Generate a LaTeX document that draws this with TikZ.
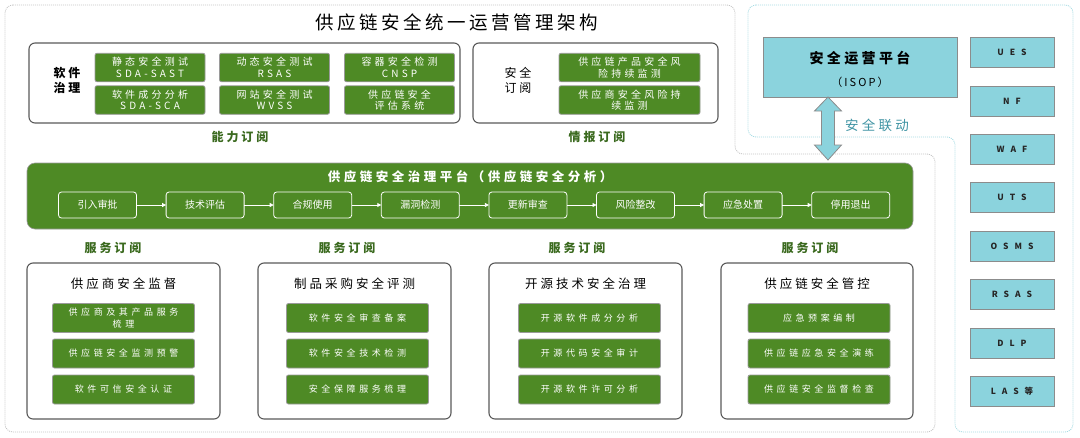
\documentclass[tikz,border=0pt]{standalone}
\usepackage{fontspec}
\usetikzlibrary{arrows.meta,calc}
\setmainfont{Noto Sans CJK SC}
\newfontfamily\lsA[LetterSpace=32]{Noto Sans CJK SC}
\newfontfamily\lsB[LetterSpace=40]{Noto Sans CJK SC}
\newfontfamily\lsC[LetterSpace=19]{Noto Sans CJK SC}
\newfontfamily\lsD[LetterSpace=70]{Noto Sans CJK SC}
\newfontfamily\lsE[LetterSpace=24]{Noto Sans CJK SC}
\newfontfamily\lsF[LetterSpace=28]{Noto Sans CJK SC}
\definecolor{gr}{HTML}{4E8A25}
\definecolor{gborder}{HTML}{9A9A9A}
\definecolor{boxgray}{HTML}{5A5A5A}
\definecolor{cy}{HTML}{8BD3DD}
\definecolor{cborder}{HTML}{8C8C8C}
\definecolor{dkgr}{HTML}{3B6A1F}
\definecolor{teal}{HTML}{3F94A4}
\definecolor{dotgray}{HTML}{C4C4C4}
\definecolor{dotcy}{HTML}{A6DCE4}
\begin{document}
\begin{tikzpicture}[x=1pt,y=-1pt,
  every node/.style={inner sep=0pt, outer sep=0pt},
  container/.style={draw=boxgray, line width=1.1pt, rounded corners=6pt, fill=white},
  gbox/.style={draw=gborder, fill=gr, line width=0.8pt, rounded corners=2pt, text=white, align=center},
  topg/.style={gbox, minimum height=28.5pt, font=\lsA\fontsize{10}{11.5}\selectfont},
  botg/.style={gbox, minimum width=142pt, minimum height=29pt, font=\lsB\fontsize{9}{11.5}\selectfont},
  stepbox/.style={draw=white, line width=0.8pt, rounded corners=3pt, minimum width=78pt, minimum height=26pt, text=white, font=\fontsize{10}{12}\selectfont},
  cbox/.style={draw=cborder, fill=cy, line width=1pt, minimum width=84pt, minimum height=30pt, text=black!85, font=\lsD\bfseries\fontsize{8.5}{10}\selectfont},
  sublabel/.style={text=dkgr, font=\lsE\bfseries\fontsize{12}{14}\selectfont},
  bottitle/.style={font=\lsE\fontsize{12.5}{14}\selectfont},
  flow/.style={draw=white, line width=0.8pt, -{Triangle[length=4pt,width=4pt]}},
  dotline/.style={line width=0.8pt, dash pattern=on 1pt off 1pt, rounded corners=8pt}
]
\useasboundingbox (0,0) rectangle (1080,437);
\fill[white] (0,0) rectangle (1080,437);

% outer dotted outlines
\draw[dotline, draw=dotgray] (5,5) -- (735,5) -- (735,154) -- (935,154) -- (935,432) -- (5,432) -- cycle;
\draw[dotline, draw=dotcy] (748,5) -- (1073,5) -- (1073,432) -- (955,432) -- (955,137) -- (748,137) -- cycle;

% title
\node[font=\lsC\fontsize{18.5}{20}\selectfont] (title) at (457,22) {供应链安全统一运营管理架构};

% capability subscription box
\node[container, minimum width=431pt, minimum height=80pt] (capbox) at (244.5,83) {};
\node[font=\lsE\bfseries\fontsize{12}{15}\selectfont, align=center] (swlbl) at (67,80) {软件\\治理};
\node[topg, minimum width=110pt] (g11) at (150,67.5) {静态安全测试\\SDA-SAST};
\node[topg, minimum width=110pt] (g12) at (274.5,67.5) {动态安全测试\\RSAS};
\node[topg, minimum width=110pt] (g13) at (399.5,67.5) {容器安全检测\\CNSP};
\node[topg, minimum width=110pt] (g21) at (150,100) {软件成分分析\\SDA-SCA};
\node[topg, minimum width=110pt] (g22) at (274.5,100) {网站安全测试\\WVSS};
\node[topg, minimum width=110pt] (g23) at (399.5,100) {供应链安全\\评估系统};
\node[sublabel] (caplbl) at (240,137) {能力订阅};

% intelligence subscription box
\node[container, minimum width=245pt, minimum height=80pt] (intbox) at (595.5,83) {};
\node[font=\lsE\fontsize{12}{15}\selectfont, align=center] (seclbl) at (518,80) {安全\\订阅};
\node[topg, minimum width=141pt] (i1) at (629.5,67.5) {供应链产品安全风\\险持续监测};
\node[topg, minimum width=141pt] (i2) at (629.5,100) {供应商安全风险持\\续监测};
\node[sublabel] (intlbl) at (597,137) {情报订阅};

% ISOP
\node[draw=cborder, fill=cy, line width=1pt, minimum width=194pt, minimum height=60pt] (isop) at (860,67) {};
\node[font=\lsE\bfseries\fontsize{14}{16}\selectfont] (isopt) at (860,58) {安全运营平台};
\node[font=\lsC\fontsize{11}{13}\selectfont] (isops) at (860,82) {（ISOP）};

% right column
\node[cbox] (c1) at (1012,52) {UES};
\node[cbox] (c2) at (1012,101) {NF};
\node[cbox] (c3) at (1012,149) {WAF};
\node[cbox] (c4) at (1012,197) {UTS};
\node[cbox] (c5) at (1012,246) {OSMS};
\node[cbox] (c6) at (1012,294) {RSAS};
\node[cbox] (c7) at (1012,343) {DLP};
\node[cbox] (c8) at (1012,391) {LAS等};

% platform
\node[fill=gr, draw=gborder, line width=0.6pt, rounded corners=8pt, minimum width=886pt, minimum height=66pt] (plat) at (470,196) {};
\node[text=white, font=\lsF\bfseries\fontsize{12.5}{14}\selectfont] (platt) at (470,177) {供应链安全治理平台（供应链安全分析）};
\foreach \i/\t in {0/引入审批,1/技术评估,2/合规使用,3/漏洞检测,4/更新审查,5/风险整改,6/应急处置,7/停用退出}{
  \node[stepbox] (s\i) at ({97.5+\i*107.6},205) {\t};
}
\foreach \i [evaluate=\i as \j using int(\i+1)] in {0,...,6}{
  \draw[flow] (s\i.east) -- (s\j.west);
}

% double arrow between ISOP and platform
\coordinate (aT) at ([xshift=-32pt]isop.south);
\path (aT |- plat.north) ++(0,-3) coordinate (aB);
\filldraw[fill=cy, draw=cborder, line width=0.8pt, line join=miter]
  (aT) -- ($(aT)+(13.5,14)$) -- ($(aT)+(6.5,14)$) -- ($(aB)+(6.5,-15)$) -- ($(aB)+(13.5,-15)$)
  -- (aB) -- ($(aB)+(-13.5,-15)$) -- ($(aB)+(-6.5,-15)$) -- ($(aT)+(-6.5,14)$) -- ($(aT)+(-13.5,14)$) -- cycle;
\node[text=teal, font=\lsE\fontsize{13.5}{15}\selectfont] (link) at (877,125) {安全联动};

% service subscription labels
\node[sublabel] (sv1) at (113,248) {服务订阅};
\node[sublabel] (sv2) at (347,248) {服务订阅};
\node[sublabel] (sv3) at (577,248) {服务订阅};
\node[sublabel] (sv4) at (810,248) {服务订阅};

% bottom boxes
\node[container, minimum width=193pt, minimum height=156pt] (b1) at (123.5,341) {};
\node[container, minimum width=193pt, minimum height=156pt] (b2) at (354.5,341) {};
\node[container, minimum width=193pt, minimum height=156pt] (b3) at (585.5,341) {};
\node[container, minimum width=192pt, minimum height=156pt] (b4) at (817,341) {};

\node[bottitle] (t1) at (123.5,284) {供应商安全监督};
\node[bottitle] (t2) at (354.5,284) {制品采购安全评测};
\node[bottitle] (t3) at (585.5,284) {开源技术安全治理};
\node[bottitle] (t4) at (817,284) {供应链安全管控};

\node[botg] (b11) at (123.5,318) {供应商及其产品服务\\梳理};
\node[botg] (b12) at (123.5,353.5) {供应链安全监测预警};
\node[botg] (b13) at (123.5,389.5) {软件可信安全认证};

\node[botg] (b21) at (357.5,318) {软件安全审查备案};
\node[botg] (b22) at (357.5,353.5) {软件安全技术检测};
\node[botg] (b23) at (357.5,389.5) {安全保障服务梳理};

\node[botg] (b31) at (589.5,318) {开源软件成分分析};
\node[botg] (b32) at (589.5,353.5) {开源代码安全审计};
\node[botg] (b33) at (589.5,389.5) {开源软件许可分析};

\node[botg] (b41) at (819,318) {应急预案编制};
\node[botg] (b42) at (819,353.5) {供应链应急安全演练};
\node[botg] (b43) at (819,389.5) {供应链安全监督检查};
\end{tikzpicture}
\end{document}
